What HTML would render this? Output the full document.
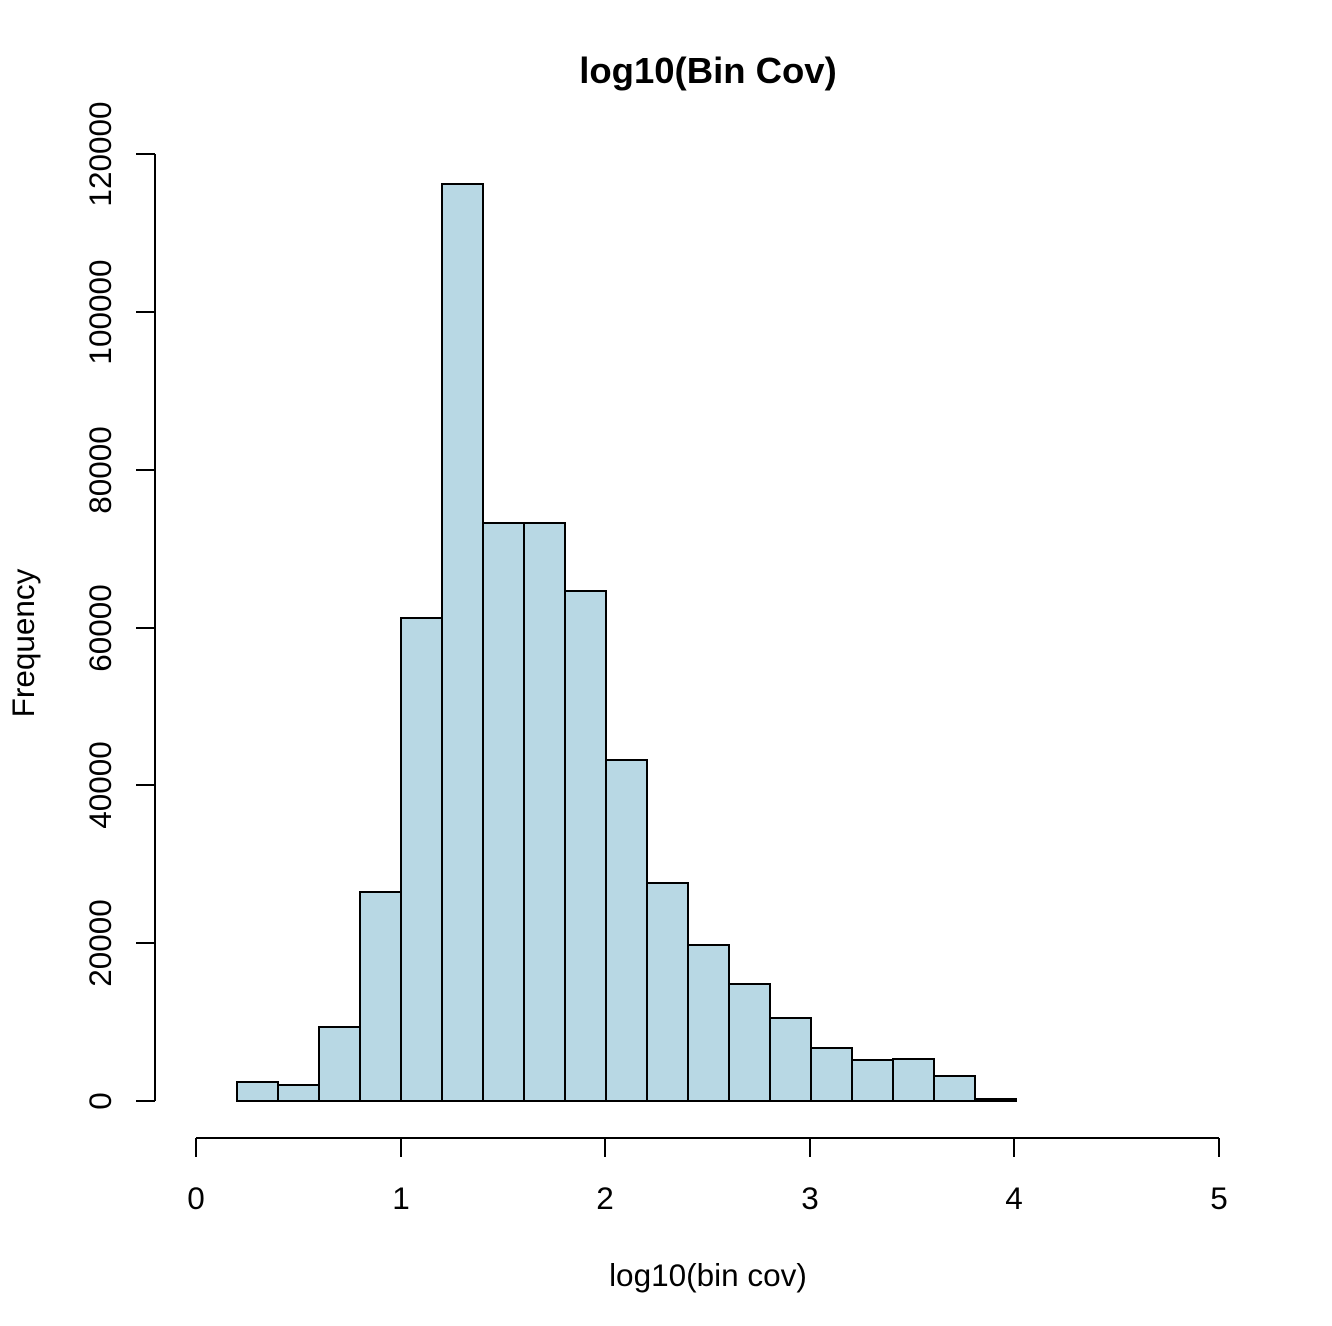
<!DOCTYPE html>
<html><head><meta charset="utf-8"><style>
html,body{margin:0;padding:0;background:#fff;}
svg{display:block;}
text{font-family:"Liberation Sans",sans-serif;fill:#000;}
</style></head><body>
<svg width="1332" height="1326" viewBox="0 0 1332 1326" xmlns="http://www.w3.org/2000/svg">
<text x="708" y="83" font-size="36.5" font-weight="bold" text-anchor="middle">log10(Bin Cov)</text>
<text x="708" y="1286" font-size="31.5" text-anchor="middle">log10(bin cov)</text>
<text transform="translate(34,643) rotate(-90)" font-size="31.5" text-anchor="middle">Frequency</text>
<g fill="#b8d8e4" stroke="#000" stroke-width="2">
<rect x="237" y="1082" width="41" height="19"/>
<rect x="278" y="1085" width="41" height="16"/>
<rect x="319" y="1027" width="41" height="74"/>
<rect x="360" y="892" width="41" height="209"/>
<rect x="401" y="618" width="41" height="483"/>
<rect x="442" y="184" width="41" height="917"/>
<rect x="483" y="523" width="41" height="578"/>
<rect x="524" y="523" width="41" height="578"/>
<rect x="565" y="591" width="41" height="510"/>
<rect x="606" y="760" width="41" height="341"/>
<rect x="647" y="883" width="41" height="218"/>
<rect x="688" y="945" width="41" height="156"/>
<rect x="729" y="984" width="41" height="117"/>
<rect x="770" y="1018" width="41" height="83"/>
<rect x="811" y="1048" width="41" height="53"/>
<rect x="852" y="1060" width="41" height="41"/>
<rect x="893" y="1059" width="41" height="42"/>
<rect x="934" y="1076" width="41" height="25"/>
<rect x="975" y="1099" width="41" height="2"/>
</g>
<g stroke="#000" stroke-width="2" fill="none">
<line x1="196" y1="1138" x2="1219" y2="1138"/>
<line x1="196" y1="1138" x2="196" y2="1157"/>
<line x1="401" y1="1138" x2="401" y2="1157"/>
<line x1="605" y1="1138" x2="605" y2="1157"/>
<line x1="810" y1="1138" x2="810" y2="1157"/>
<line x1="1014" y1="1138" x2="1014" y2="1157"/>
<line x1="1219" y1="1138" x2="1219" y2="1157"/>
<line x1="155" y1="154" x2="155" y2="1101"/>
<line x1="136" y1="1101" x2="155" y2="1101"/>
<line x1="136" y1="943" x2="155" y2="943"/>
<line x1="136" y1="785" x2="155" y2="785"/>
<line x1="136" y1="628" x2="155" y2="628"/>
<line x1="136" y1="470" x2="155" y2="470"/>
<line x1="136" y1="312" x2="155" y2="312"/>
<line x1="136" y1="154" x2="155" y2="154"/>
</g>
<g font-size="31.5" text-anchor="middle">
<text x="196" y="1209">0</text>
<text x="401" y="1209">1</text>
<text x="605" y="1209">2</text>
<text x="810" y="1209">3</text>
<text x="1014" y="1209">4</text>
<text x="1219" y="1209">5</text>
<text transform="translate(111,1101) rotate(-90)">0</text>
<text transform="translate(111,943) rotate(-90)">20000</text>
<text transform="translate(111,785) rotate(-90)">40000</text>
<text transform="translate(111,628) rotate(-90)">60000</text>
<text transform="translate(111,470) rotate(-90)">80000</text>
<text transform="translate(111,312) rotate(-90)">100000</text>
<text transform="translate(111,154) rotate(-90)">120000</text>
</g>
</svg>
</body></html>
